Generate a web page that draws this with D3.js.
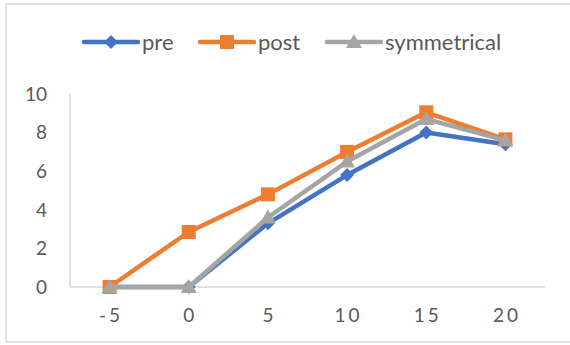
<!DOCTYPE html>
<html>
<head>
<meta charset="utf-8">
<script src="https://cdn.jsdelivr.net/npm/d3@7"></script>
<style>
  body { margin: 0; background: #fff; }
  text { font-family: Lato, "Open Sans", "Liberation Sans", sans-serif; fill: #595959; }
</style>
</head>
<body>
<div id="chart"></div>
<script>
// Data
const categories = ["-5", "0", "5", "10", "15", "20"];
const preValues = [0, 0, 3.3, 5.8, 8.0, 7.4];
const postValues = [0, 2.85, 4.8, 7.0, 9.05, 7.65];
const symValues = [0, 0, 3.6, 6.5, 8.7, 7.6];
const yTicks = [0, 2, 4, 6, 8, 10];

const seriesList = [
    {name: "pre", values: preValues, color: "#4472C4", marker: "diamond"},
    {name: "post", values: postValues, color: "#ED7D31", marker: "square"},
    {name: "symmetrical", values: symValues, color: "#A5A5A5", marker: "triangle"}
];

const width = 570;
const height = 345;
const margin = {top: 94, right: 25, bottom: 58, left: 70};

const svg = d3.select("#chart")
    .append("svg")
    .attr("width", width)
    .attr("height", height);

// outer chart border (right edge is cut off in the reference)
svg.append("rect")
    .attr("x", 6)
    .attr("y", 4)
    .attr("width", 580)
    .attr("height", 338)
    .attr("fill", "none")
    .attr("stroke", "#d9d9d9")
    .attr("stroke-width", 1.5);

const x = d3.scaleBand()
    .domain(categories)
    .range([margin.left, width - margin.right]);

const y = d3.scaleLinear()
    .domain([0, 10])
    .range([height - margin.bottom, margin.top]);

const g = svg.append("g");

// axes lines
g.append("line")
    .attr("x1", margin.left).attr("x2", margin.left)
    .attr("y1", y(10)).attr("y2", y(0))
    .attr("stroke", "#d9d9d9").attr("stroke-width", 1.5);
g.append("line")
    .attr("x1", margin.left).attr("x2", width - margin.right)
    .attr("y1", y(0)).attr("y2", y(0))
    .attr("stroke", "#d9d9d9").attr("stroke-width", 1.5);

// y tick labels
g.selectAll(".ylab")
    .data(yTicks)
    .enter().append("text")
    .attr("class", "ylab")
    .attr("x", 47)
    .attr("y", d => y(d))
    .attr("dy", "0.36em")
    .attr("text-anchor", "end")
    .style("font-size", "19px")
    .text(d => d);

// x tick labels (Excel-style spaced digits)
g.selectAll(".xlab")
    .data(categories)
    .enter().append("text")
    .attr("class", "xlab")
    .attr("x", d => x(d) + x.bandwidth() / 2 + 1.5)
    .attr("y", 322)
    .attr("text-anchor", "middle")
    .style("font-size", "19px")
    .style("letter-spacing", "3px")
    .text(d => d);

const line = d3.line()
    .x((d, i) => x(categories[i]) + x.bandwidth() / 2)
    .y(d => y(d));

function drawMarker(sel, type, color) {
    if (type === "diamond") {
        sel.append("path").attr("d", "M0,-7L7,0L0,7L-7,0Z").attr("fill", color);
    } else if (type === "square") {
        sel.append("rect").attr("x", -7).attr("y", -7).attr("width", 14).attr("height", 14).attr("fill", color);
    } else {
        sel.append("path").attr("d", "M0,-8L8,6L-8,6Z").attr("fill", color);
    }
}

seriesList.forEach(s => {
    g.append("path")
        .datum(s.values)
        .attr("d", line)
        .attr("fill", "none")
        .attr("stroke", s.color)
        .attr("stroke-width", 4.5)
        .attr("stroke-linejoin", "round");

    g.selectAll(".m-" + s.name)
        .data(s.values)
        .enter().append("g")
        .attr("class", "m-" + s.name)
        .attr("transform", (d, i) => `translate(${x(categories[i]) + x.bandwidth() / 2},${y(d)})`)
        .each(function() { drawMarker(d3.select(this), s.marker, s.color); });
});

// legend
const legendPos = [84, 200, 327];
const legend = svg.selectAll(".legend")
    .data(seriesList)
    .enter().append("g")
    .attr("class", "legend")
    .attr("transform", (d, i) => `translate(${legendPos[i]},42)`);

legend.append("line")
    .attr("x1", 0).attr("x2", 54)
    .attr("stroke", d => d.color)
    .attr("stroke-width", 4.5)
    .attr("stroke-linecap", "round");

legend.each(function(d) {
    const m = d3.select(this).append("g").attr("transform", "translate(27,0)");
    drawMarker(m, d.marker, d.color);
});

legend.append("text")
    .attr("x", 58)
    .attr("dy", "0.36em")
    .style("font-size", "22px")
    .text(d => d.name);
</script>
</body>
</html>
